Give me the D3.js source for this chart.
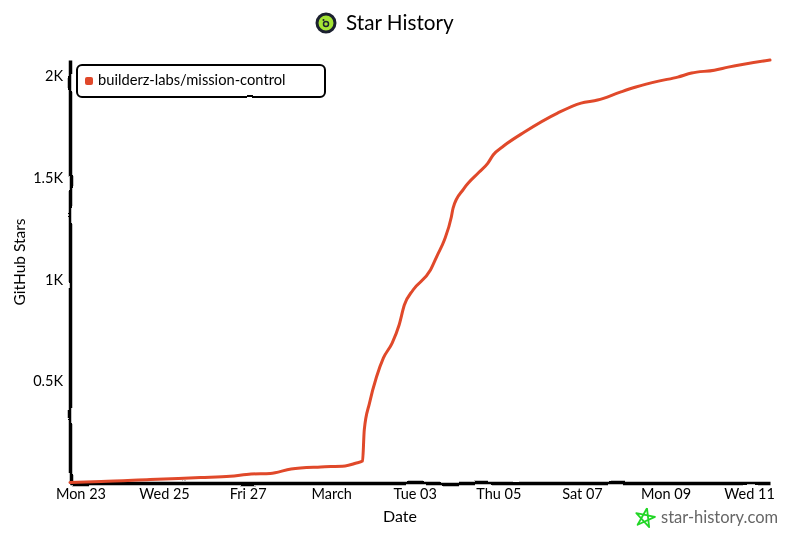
<!DOCTYPE html>
<html>
<head>
<meta charset="utf-8">
<script src="https://cdnjs.cloudflare.com/ajax/libs/d3/7.8.5/d3.min.js"></script>
<style>
  html, body { margin: 0; background: #fff; }
  svg { display: block; }
  text { font-family: Lato, "Open Sans", sans-serif; fill: #000; }
</style>
</head>
<body>
<div id="chart"></div>
<script>
const repoName = "builderz-labs/mission-control";
const lineColor = "#e0482a";

const starDates = [
  "2026-02-22T18:00", "2026-02-23T12:00", "2026-02-24T16:00", "2026-02-25T21:00", "2026-02-26T14:00",
  "2026-02-27T02:00", "2026-02-27T13:00", "2026-02-28T01:00", "2026-02-28T18:00", "2026-03-01T08:00",
  "2026-03-01T14:00", "2026-03-01T18:00", "2026-03-01T19:00", "2026-03-01T22:00", "2026-03-02T02:00", "2026-03-02T06:00",
  "2026-03-02T11:00", "2026-03-02T15:00", "2026-03-02T18:00", "2026-03-02T23:00", "2026-03-03T09:00",
  "2026-03-03T13:00", "2026-03-03T17:00", "2026-03-03T21:00", "2026-03-03T22:00", "2026-03-04T04:00",
  "2026-03-04T13:00", "2026-03-04T18:00", "2026-03-04T21:00", "2026-03-05T03:00", "2026-03-05T15:00",
  "2026-03-06T10:00", "2026-03-06T23:30", "2026-03-07T09:00", "2026-03-07T22:00", "2026-03-08T07:00",
  "2026-03-08T20:00", "2026-03-09T07:00", "2026-03-09T15:00", "2026-03-10T04:00", "2026-03-10T12:00",
  "2026-03-11T12:00"
];
const starCounts = [
  3, 7, 17, 27, 33,
  44, 47, 69, 79, 84,
  97, 108, 261, 393, 521, 615,
  688, 777, 875, 949, 1047,
  1121, 1195, 1308, 1352, 1445,
  1529, 1573, 1613, 1657, 1726,
  1819, 1868, 1883, 1922, 1947,
  1976, 1996, 2016, 2030, 2045,
  2080
];

const xTickDates = ["2026-02-23", "2026-02-25", "2026-02-27", "2026-03-01", "2026-03-03", "2026-03-05", "2026-03-07", "2026-03-09", "2026-03-11"];
const xTickLabels = ["Mon 23", "Wed 25", "Fri 27", "March", "Tue 03", "Thu 05", "Sat 07", "Mon 09", "Wed 11"];
const yTickValues = [500, 1000, 1500, 2000];
const yTickLabels = ["0.5K", "1K", "1.5K", "2K"];

const width = 800, height = 533;
const margin = { top: 60, right: 30, bottom: 50, left: 70 };
const parseDate = d3.timeParse("%Y-%m-%dT%H:%M");
const parseDay = d3.timeParse("%Y-%m-%d");

const data = starDates.map((d, i) => ({ date: parseDate(d), stars: starCounts[i] }));
const tickDates = xTickDates.map(parseDay);

const x = d3.scaleTime()
  .domain([parseDate("2026-02-22T18:00"), parseDate("2026-03-11T12:00")])
  .range([margin.left, width - margin.right]);
const y = d3.scaleLinear()
  .domain([0, 2080])
  .range([height - margin.bottom, margin.top]);

const svg = d3.select("#chart").append("svg").attr("width", width).attr("height", height);

// hand drawn wobble: axes, legend box, text
// region is oversized because the axis groups have their own translate
const defs = svg.append("defs");
function addRough(id, freq, scale, seed) {
  const f = defs.append("filter").attr("id", id)
    .attr("filterUnits", "userSpaceOnUse")
    .attr("x", -width).attr("y", -height).attr("width", width * 3).attr("height", height * 3);
  f.append("feTurbulence").attr("type", "fractalNoise").attr("baseFrequency", freq)
    .attr("numOctaves", 1).attr("seed", seed).attr("result", "noise");
  f.append("feDisplacementMap").attr("in", "SourceGraphic").attr("in2", "noise")
    .attr("scale", scale).attr("xChannelSelector", "R").attr("yChannelSelector", "G");
}
addRough("rough-line", 0.03, 4, 3);
addRough("rough-box", 0.03, 2.2, 5);
addRough("rough-text", 0.12, 1.2, 8);

// Axes
const xAxis = d3.axisBottom(x).tickValues(tickDates).tickSize(0).tickPadding(6)
  .tickFormat((d, i) => xTickLabels[i]);
const yAxis = d3.axisLeft(y).tickValues(yTickValues).tickSize(0).tickPadding(7)
  .tickFormat((d, i) => yTickLabels[i]);

const xG = svg.append("g").attr("transform", `translate(0,${height - margin.bottom})`).call(xAxis);
const yG = svg.append("g").attr("transform", `translate(${margin.left},0)`).call(yAxis);

[xG, yG].forEach(g => {
  g.select(".domain").attr("stroke", "#000").attr("stroke-width", 3.5).attr("filter", "url(#rough-line)");
  g.selectAll("text").attr("font-size", 14.5).attr("font-family", "Lato").attr("filter", "url(#rough-text)");
});

// Line
const line = d3.line().x(d => x(d.date)).y(d => y(d.stars)).curve(d3.curveMonotoneX);
svg.append("path")
  .datum(data)
  .attr("fill", "none")
  .attr("stroke", lineColor)
  .attr("stroke-width", 3)
  .attr("stroke-linecap", "round")
  .attr("stroke-linejoin", "round")
  .attr("filter", "url(#rough-text)")
  .attr("d", line);

// Legend
svg.append("rect")
  .attr("x", 77).attr("y", 65).attr("width", 248).attr("height", 32).attr("rx", 5)
  .attr("fill", "#fff").attr("stroke", "#000").attr("stroke-width", 2)
  .attr("filter", "url(#rough-box)");
svg.append("rect")
  .attr("x", 85).attr("y", 77).attr("width", 8).attr("height", 8).attr("rx", 2)
  .attr("fill", lineColor);
svg.append("text")
  .attr("x", 98).attr("y", 85).attr("font-size", 14.7)
  .attr("filter", "url(#rough-text)")
  .text(repoName);

// Titles
svg.append("text")
  .attr("x", 346).attr("y", 30).attr("font-size", 20.7)
  .attr("filter", "url(#rough-text)")
  .text("Star History");
svg.append("text")
  .attr("x", 400).attr("y", 522).attr("text-anchor", "middle").attr("font-size", 16)
  .attr("filter", "url(#rough-text)")
  .text("Date");
svg.append("text")
  .attr("transform", "translate(25,262) rotate(-90)")
  .attr("text-anchor", "middle").attr("font-size", 15.5)
  .attr("filter", "url(#rough-text)")
  .text("GitHub Stars");

// Logo
svg.append("circle").attr("cx", 326).attr("cy", 23).attr("r", 9)
  .attr("fill", "#a4e535").attr("stroke", "#1c2130").attr("stroke-width", 3);
svg.append("circle").attr("cx", 326).attr("cy", 24).attr("r", 2.5)
  .attr("fill", "none").attr("stroke", "#1c2130").attr("stroke-width", 1.5);
svg.append("circle").attr("cx", 323.5).attr("cy", 20).attr("r", 1).attr("fill", "#1c2130");

// Watermark
const starPoints = d3.range(6).map(i => {
  const a = -Math.PI / 2 + 0.2 + i * 2 * (2 * Math.PI / 5);
  return [645 + 10 * Math.cos(a), 518 + 10 * Math.sin(a)];
});
svg.append("path")
  .attr("d", d3.line()(starPoints))
  .attr("fill", "none").attr("stroke", "#22d626").attr("stroke-width", 1.8)
  .attr("stroke-linejoin", "round")
  .attr("filter", "url(#rough-text)");
svg.append("text")
  .attr("x", 661).attr("y", 523).attr("font-size", 16.5)
  .style("fill", "#666")
  .attr("filter", "url(#rough-text)")
  .text("star-history.com");
</script>
</body>
</html>
